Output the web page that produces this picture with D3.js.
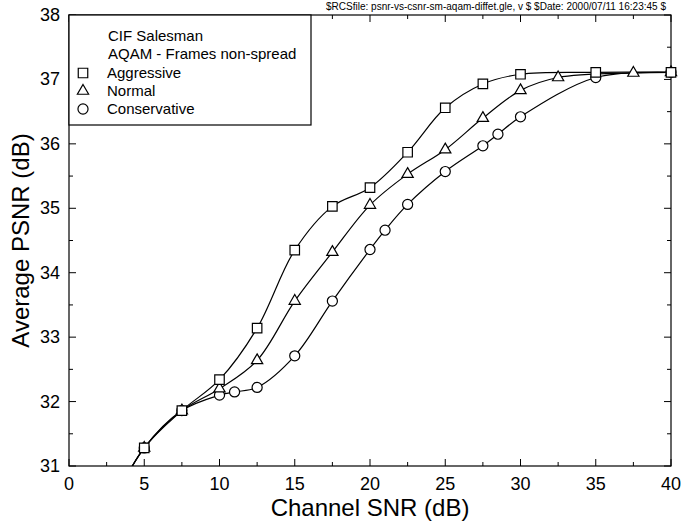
<!DOCTYPE html>
<html>
<head>
<meta charset="utf-8">
<script src="https://cdn.jsdelivr.net/npm/d3@7"></script>
<style>
  body { margin: 0; background: #fff; }
  text { font-family: "Liberation Sans", Arial, sans-serif; fill: #000; }
</style>
</head>
<body>
<div id="chart"></div>
<script>
// channel SNR (dB) per series
const aggressiveX = [2.5, 5, 7.5, 10, 12.5, 15, 17.5, 20, 22.5, 25, 27.5, 30, 35, 40];
const aggressiveY = [30.25, 31.28, 31.86, 32.34, 33.14, 34.35, 35.03, 35.32, 35.87, 36.56, 36.93, 37.08, 37.11, 37.11];
const normalX = [2.5, 5, 7.5, 10, 12.5, 15, 17.5, 20, 22.5, 25, 27.5, 30, 32.5, 37.5, 40];
const normalY = [30.25, 31.28, 31.86, 32.2, 32.64, 33.56, 34.32, 35.05, 35.53, 35.91, 36.4, 36.83, 37.03, 37.1, 37.11];
const conservativeX = [2.5, 5, 7.5, 10, 11, 12.5, 15, 17.5, 20, 21, 22.5, 25, 27.5, 28.5, 30, 35, 40];
const conservativeY = [30.25, 31.28, 31.86, 32.1, 32.15, 32.22, 32.71, 33.56, 34.36, 34.66, 35.06, 35.57, 35.97, 36.15, 36.42, 37.03, 37.11];

const xTicks = [0, 5, 10, 15, 20, 25, 30, 35, 40];
const yTicks = [31, 32, 33, 34, 35, 36, 37, 38];
const legendTitle = ['CIF Salesman', 'AQAM - Frames non-spread'];
const seriesNames = ['Aggressive', 'Normal', 'Conservative'];
const headerText = '$RCSfile: psnr-vs-csnr-sm-aqam-diffet.gle, v $ $Date: 2000/07/11 16:23:45 $';

const svgWidth = 682, svgHeight = 525;
const margin = { top: 15, right: 11, bottom: 59, left: 69 };
const width = svgWidth - margin.left - margin.right;
const height = svgHeight - margin.top - margin.bottom;

const root = d3.select('#chart').append('svg')
  .attr('width', svgWidth)
  .attr('height', svgHeight);

root.append('text')
  .attr('x', 666).attr('y', 10)
  .attr('text-anchor', 'end')
  .attr('textLength', 340)
  .attr('lengthAdjust', 'spacingAndGlyphs')
  .style('font-size', '10px')
  .text(headerText);

const svg = root.append('g')
  .attr('transform', `translate(${margin.left},${margin.top})`);

const x = d3.scaleLinear().domain([0, 40]).range([0, width]);
const y = d3.scaleLinear().domain([31, 38]).range([height, 0]);

svg.append('clipPath').attr('id', 'clip')
  .append('rect').attr('width', width).attr('height', height);

// ticks (inward, all four sides)
const xMinor = d3.range(0, 40.01, 2.5);
const yMinor = d3.range(31, 38.01, 0.5);
const tk = svg.append('g').attr('stroke', '#000').attr('stroke-width', 1);
xMinor.forEach(v => {
  const len = v % 5 === 0 ? 7 : 4;
  tk.append('line').attr('x1', x(v)).attr('x2', x(v)).attr('y1', height).attr('y2', height - len);
  tk.append('line').attr('x1', x(v)).attr('x2', x(v)).attr('y1', 0).attr('y2', len);
});
yMinor.forEach(v => {
  const len = v % 1 === 0 ? 7 : 4;
  tk.append('line').attr('y1', y(v)).attr('y2', y(v)).attr('x1', 0).attr('x2', len);
  tk.append('line').attr('y1', y(v)).attr('y2', y(v)).attr('x1', width).attr('x2', width - len);
});

svg.append('rect')
  .attr('width', width).attr('height', height)
  .attr('fill', 'none').attr('stroke', '#000').attr('stroke-width', 1.2);

// tick labels
svg.selectAll('.xl').data(xTicks).enter().append('text')
  .attr('x', d => x(d)).attr('y', height + 24)
  .attr('text-anchor', 'middle')
  .style('font-size', '18px')
  .text(d => d);
svg.selectAll('.yl').data(yTicks).enter().append('text')
  .attr('x', -9).attr('y', d => y(d) + 6)
  .attr('text-anchor', 'end')
  .style('font-size', '18px')
  .text(d => d);

// axis titles
svg.append('text')
  .attr('x', width / 2).attr('y', height + 50)
  .attr('text-anchor', 'middle')
  .style('font-size', '24px')
  .text('Channel SNR (dB)');
svg.append('text')
  .attr('transform', 'rotate(-90)')
  .attr('x', -(y(34.5))).attr('y', -margin.left + 29)
  .attr('text-anchor', 'middle')
  .style('font-size', '24px')
  .text('Average PSNR (dB)');

// lines
const series = [
  { xs: aggressiveX, ys: aggressiveY, sym: d3.symbolSquare, size: 90 },
  { xs: normalX, ys: normalY, sym: d3.symbolTriangle, size: 55 },
  { xs: conservativeX, ys: conservativeY, sym: d3.symbolCircle, size: 80 }
];
const line = d3.line()
  .x(d => x(d[0])).y(d => y(d[1]))
  .curve(d3.curveCatmullRom.alpha(0.5));

const plot = svg.append('g').attr('clip-path', 'url(#clip)');
series.forEach(s => {
  const pts = s.xs.map((v, i) => [v, s.ys[i]]);
  plot.append('path').datum(pts)
    .attr('d', line)
    .attr('fill', 'none').attr('stroke', '#000').attr('stroke-width', 1.2);
});
series.slice().reverse().forEach(s => {
  const pts = s.xs.map((v, i) => [v, s.ys[i]]).filter(p => p[1] >= 31);
  svg.selectAll(null).data(pts).enter().append('path')
    .attr('transform', d => `translate(${x(d[0])},${y(d[1])})`)
    .attr('d', d3.symbol().type(s.sym).size(s.size))
    .attr('fill', '#fff').attr('stroke', '#000').attr('stroke-width', 1.2);
});

// legend
const lg = svg.append('g');
lg.append('rect')
  .attr('x', 0).attr('y', 0).attr('width', 242).attr('height', 110)
  .attr('fill', '#fff').attr('stroke', '#000').attr('stroke-width', 1.2);
legendTitle.forEach((t, i) => {
  lg.append('text')
    .attr('x', 39).attr('y', 26 + i * 18)
    .style('font-size', '15px')
    .text(t);
});
seriesNames.forEach((t, i) => {
  const cy = 58 + i * 18;
  lg.append('path')
    .attr('transform', `translate(14,${cy})`)
    .attr('d', d3.symbol().type(series[i].sym).size(series[i].size))
    .attr('fill', '#fff').attr('stroke', '#000').attr('stroke-width', 1.2);
  lg.append('text')
    .attr('x', 38).attr('y', cy + 5)
    .style('font-size', '15px')
    .text(t);
});
</script>
</body>
</html>
